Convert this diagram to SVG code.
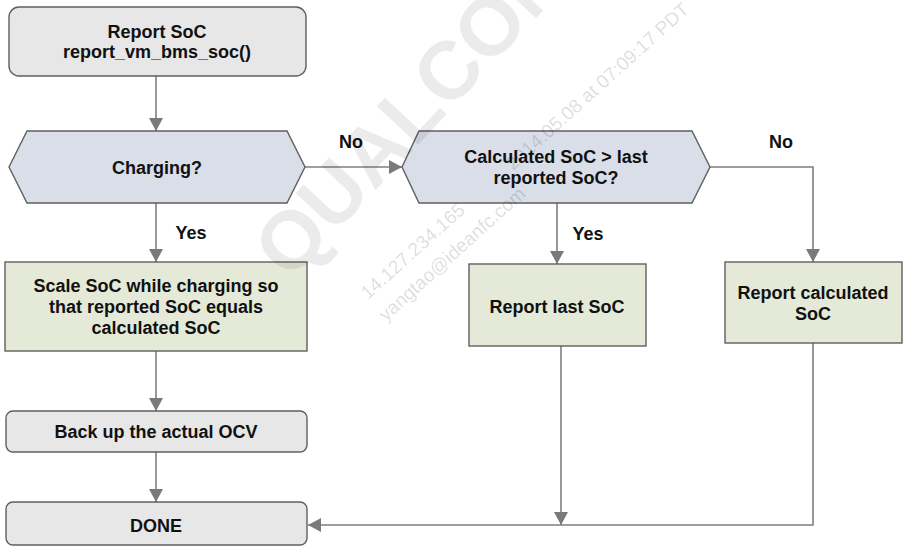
<svg xmlns="http://www.w3.org/2000/svg" width="913" height="557" viewBox="0 0 913 557">
<style>
.t{font-family:"Liberation Sans",Arial,sans-serif;font-size:18px;font-weight:bold;fill:#111;text-anchor:middle}
.gray{fill:#e7e7e7;stroke:#5f5f5f;stroke-width:1.4}
.blue{fill:#d9dee9;stroke:#5f5f5f;stroke-width:1.4}
.green{fill:#e4ead7;stroke:#5f5f5f;stroke-width:1.4}
.c{fill:none;stroke:#7f7f7f;stroke-width:1.6}
.wm{font-family:"Liberation Sans",Arial,sans-serif;fill:#000}
</style>
<defs>
<marker id="ah" viewBox="0 0 13 14" refX="13" refY="7" markerWidth="13" markerHeight="14" markerUnits="userSpaceOnUse" orient="auto">
<path d="M0,0 L13,7 L0,14 z" fill="#7a7a7a"/>
</marker>
</defs>
<rect width="913" height="557" fill="#fff"/>
<g id="connectors">
<path class="c" d="M156,76 V131" marker-end="url(#ah)"/>
<path class="c" d="M156,203 V262" marker-end="url(#ah)"/>
<path class="c" d="M305,167 H402" marker-end="url(#ah)"/>
<path class="c" d="M710,167 H813 V262" marker-end="url(#ah)"/>
<path class="c" d="M557,203 V264" marker-end="url(#ah)"/>
<path class="c" d="M156,351 V411" marker-end="url(#ah)"/>
<path class="c" d="M156,452 V502" marker-end="url(#ah)"/>
<path class="c" d="M561,346 V525" marker-end="url(#ah)"/>
<path class="c" d="M813,343 V525 H308" marker-end="url(#ah)"/>
<text class="t" x="351" y="148">No</text>
<text class="t" x="781" y="148">No</text>
<text class="t" x="191" y="239">Yes</text>
<text class="t" x="588" y="240">Yes</text>
</g>
<g id="report_soc">
<rect class="gray" x="9" y="7" width="297" height="69" rx="10"/>
<text class="t" x="157" y="38">Report SoC</text>
<text class="t" x="157" y="58">report_vm_bms_soc()</text>
</g>
<g id="charging">
<polygon class="blue" points="9,167 27,131 287,131 305,167 287,203 27,203"/>
<text class="t" x="157" y="174">Charging?</text>
</g>
<g id="calc_gt_last">
<polygon class="blue" points="402,167 419,131 692,131 710,167 692,203 419,203"/>
<text class="t" x="556" y="163">Calculated SoC &gt; last</text>
<text class="t" x="556" y="184">reported SoC?</text>
</g>
<g id="scale_soc">
<rect class="green" x="5" y="262" width="302" height="89"/>
<text class="t" x="156" y="292">Scale SoC while charging so</text>
<text class="t" x="156" y="313">that reported SoC equals</text>
<text class="t" x="156" y="334">calculated SoC</text>
</g>
<g id="report_last">
<rect class="green" x="469" y="264" width="177" height="82"/>
<text class="t" x="557" y="313">Report last SoC</text>
</g>
<g id="report_calc">
<rect class="green" x="725" y="262" width="177" height="81"/>
<text class="t" x="813" y="299">Report calculated</text>
<text class="t" x="813" y="320">SoC</text>
</g>
<g id="backup_ocv">
<rect class="gray" x="6" y="411" width="301" height="41" rx="7"/>
<text class="t" x="156" y="438">Back up the actual OCV</text>
</g>
<g id="done">
<rect class="gray" x="6" y="502" width="301" height="43" rx="7"/>
<text class="t" x="156" y="532">DONE</text>
</g>
<g id="watermark" pointer-events="none">
<text class="wm" x="290" y="282" font-size="82" font-weight="bold" fill-opacity="0.08" transform="rotate(-47 290 282)">QUALCOMM</text>
<text class="wm" x="368" y="300" font-size="19" fill-opacity="0.14" transform="rotate(-42 368 300)">14.127.234.165</text>
<text class="wm" x="513" y="171" font-size="19" fill-opacity="0.14" transform="rotate(-42 513 171)">2014.05.08 at 07:09:17 PDT</text>
<text class="wm" x="386" y="322" font-size="19" fill-opacity="0.14" transform="rotate(-42 386 322)">yangtao@ideanfc.com</text>
</g>
</svg>
